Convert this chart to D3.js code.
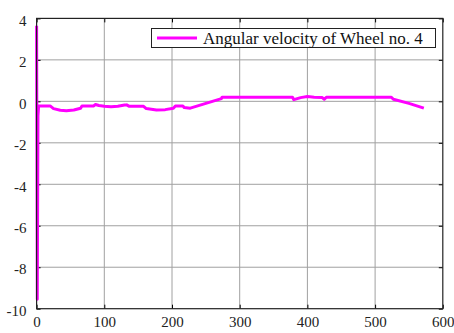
<!DOCTYPE html>
<html><head><meta charset="utf-8">
<script src="https://cdn.jsdelivr.net/npm/d3@7"></script>
<style>body{margin:0;background:#fff}svg{display:block}</style>
</head><body>
<svg id="c" width="454" height="333"></svg>
<script>
const seriesName = "Angular velocity of Wheel no. 4";
const time = [0, 1, 2, 3, 20, 25, 35, 44, 55, 65, 67, 84, 87, 92, 100, 110, 120, 130, 133, 137, 158, 162, 177, 190, 202, 205, 216, 218, 227, 250, 273, 274, 378, 380, 390, 400, 410, 422, 425, 428, 524, 527, 550, 572];
const omega = [3.65, -9.55, -0.7, -0.22, -0.22, -0.35, -0.43, -0.45, -0.42, -0.33, -0.22, -0.22, -0.15, -0.2, -0.24, -0.26, -0.24, -0.18, -0.17, -0.24, -0.24, -0.35, -0.42, -0.4, -0.33, -0.22, -0.22, -0.3, -0.33, -0.1, 0.13, 0.2, 0.2, 0.08, 0.18, 0.23, 0.2, 0.18, 0.1, 0.2, 0.2, 0.1, -0.1, -0.33];
const xTicks = [0, 100, 200, 300, 400, 500, 600];
const yTicks = [-10, -8, -6, -4, -2, 0, 2, 4];
const FONT = "'Liberation Serif'";

const svg = d3.select("#c");
const L = 36.6, R = 442.8, T = 18.4, B = 308.7;
const x = d3.scaleLinear().domain([0, 600]).range([L, R]);
const y = d3.scaleLinear().domain([-10, 4]).range([B, T]);

// grid
svg.append("g").selectAll("line").data(xTicks.slice(1, -1)).join("line")
  .attr("x1", d => x(d)).attr("x2", d => x(d)).attr("y1", T).attr("y2", B)
  .attr("stroke", "#a0a0a0").attr("stroke-width", 1);
svg.append("g").selectAll("line").data(yTicks.slice(1, -1)).join("line")
  .attr("y1", d => y(d)).attr("y2", d => y(d)).attr("x1", L).attr("x2", R)
  .attr("stroke", "#a0a0a0").attr("stroke-width", 1);

// axes (ticks inside)
const fmt = d => String(d);
const ax = (g) => g.call(s => s.select(".domain").remove())
  .call(s => s.selectAll(".tick line").attr("stroke", "#000"));
svg.append("g").attr("transform", `translate(0,${B})`)
  .call(d3.axisBottom(x).tickValues(xTicks).tickSize(-4).tickPadding(6).tickFormat(fmt))
  .call(ax).attr("font-family", FONT).attr("font-size", 15)
  .call(g => g.selectAll("text").attr("fill", "#222").attr("dy", "0.85em"));
svg.append("g").attr("transform", `translate(0,${T})`)
  .call(d3.axisTop(x).tickValues(xTicks).tickSize(-4).tickFormat(""))
  .call(ax);
svg.append("g").attr("transform", `translate(${L},0)`)
  .call(d3.axisLeft(y).tickValues(yTicks).tickSize(-4).tickPadding(10).tickFormat(fmt))
  .call(ax).attr("font-family", FONT).attr("font-size", 15)
  .call(g => g.selectAll("text").attr("fill", "#222").attr("dy", "0.45em"));
svg.append("g").attr("transform", `translate(${R},0)`)
  .call(d3.axisRight(y).tickValues(yTicks).tickSize(-4).tickFormat(""))
  .call(ax);

// line
svg.append("path").datum(time.map((t, i) => [t, omega[i]]))
  .attr("fill", "none").attr("stroke", "#ff00ff").attr("stroke-width", 3)
  .attr("stroke-linejoin", "round")
  .attr("d", d3.line().x(d => x(d[0])).y(d => y(d[1])));

// frame
svg.append("rect").attr("x", L).attr("y", T).attr("width", R - L).attr("height", B - T)
  .attr("fill", "none").attr("stroke", "#222").attr("stroke-width", 1.2);

// legend
const lg = svg.append("g");
lg.append("rect").attr("x", 151.5).attr("y", 28.5).attr("width", 284).attr("height", 19)
  .attr("fill", "#fff").attr("stroke", "#222").attr("stroke-width", 1);
lg.append("line").attr("x1", 157).attr("x2", 197).attr("y1", 38).attr("y2", 38)
  .attr("stroke", "#ff00ff").attr("stroke-width", 3);
lg.append("text").attr("x", 203).attr("y", 43.5).attr("font-size", 17).attr("fill", "#111")
  .attr("font-family", FONT).text(seriesName);
</script>
</body></html>
